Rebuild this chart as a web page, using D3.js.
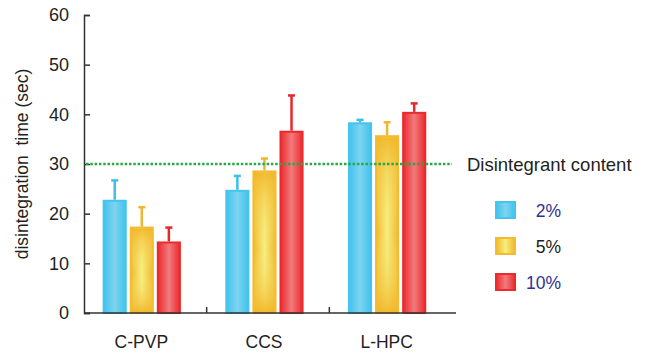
<!DOCTYPE html>
<html>
<head>
<meta charset="utf-8">
<script src="https://cdn.jsdelivr.net/npm/d3@7"></script>
<style>
  body { margin: 0; background: #fff; }
  text { font-family: "Liberation Sans", Arial, sans-serif; }
</style>
</head>
<body>
<svg id="chart" width="645" height="354"></svg>
<script>
// data
const categories = ['C-PVP', 'CCS', 'L-HPC']
const series = ['2%', '5%', '10%']
const means = [
  [22.8, 24.8, 38.4],   // 2%
  [17.4, 28.7, 35.8],   // 5%
  [14.4, 36.7, 40.5]    // 10%
]
const errors = [
  [3.9, 2.8, 0.5],
  [3.9, 2.4, 2.6],
  [2.8, 7.1, 1.7]
]
const yTicks = [0, 10, 20, 30, 40, 50, 60]
const threshold = 30

const svg = d3.select('#chart')
const margin = { left: 84, top: 15, right: 191, bottom: 41 }
const W = 645, H = 354

const colors = [
  { edge: '#3fc3ee', mid: '#7fd4ef', line: '#46c4ee', err: '#3dbfe9', text: '#2e3192' },
  { edge: '#f2b62a', mid: '#f6ee80', line: '#f3bb2e', err: '#f1b631', text: '#231f20' },
  { edge: '#ec2a2d', mid: '#f07b7e', line: '#ea2a2d', err: '#e8262b', text: '#2e3192' }
]

const x = d3.scaleBand().domain(categories).range([margin.left, W - margin.right - 2])
const xs = d3.scaleBand().domain(series).range([0, x.bandwidth()])
  .paddingInner(0.11).paddingOuter(0.82).align(0.42)
const y = d3.scaleLinear().domain([0, 60]).range([H - margin.bottom, margin.top])

// gradients
const defs = svg.append('defs')
colors.forEach((c, i) => {
  const g = defs.append('linearGradient').attr('id', 'g' + i)
    .attr('x1', 0).attr('x2', 1).attr('y1', 0).attr('y2', 0)
  g.append('stop').attr('offset', '0%').attr('stop-color', c.edge)
  g.append('stop').attr('offset', '50%').attr('stop-color', c.mid)
  g.append('stop').attr('offset', '100%').attr('stop-color', c.edge)
})
// the 5% bars also fade from yellow in the middle to orange at top and bottom
const gv = defs.append('linearGradient').attr('id', 'gv')
  .attr('x1', 0).attr('x2', 0).attr('y1', 0).attr('y2', 1)
gv.append('stop').attr('offset', '0%').attr('stop-color', '#f2b62a').attr('stop-opacity', 0.9)
gv.append('stop').attr('offset', '55%').attr('stop-color', '#f6ee80').attr('stop-opacity', 0)
gv.append('stop').attr('offset', '100%').attr('stop-color', '#f2b62a').attr('stop-opacity', 0.9)

// bars
series.forEach((s, si) => {
  const g = svg.append('g')
  categories.forEach((cat, ci) => {
    const v = means[si][ci]
    const e = errors[si][ci]
    const bx = x(cat) + xs(s)
    const cx = bx + xs.bandwidth() / 2
    g.append('line')
      .attr('x1', cx).attr('x2', cx)
      .attr('y1', y(v)).attr('y2', y(v + e))
      .attr('stroke', colors[si].err).attr('stroke-width', 2.5)
    g.append('line')
      .attr('x1', cx - 3.5).attr('x2', cx + 3.5)
      .attr('y1', y(v + e)).attr('y2', y(v + e))
      .attr('stroke', colors[si].err).attr('stroke-width', 2.5)
    g.append('rect')
      .attr('x', bx + 1).attr('y', y(v) + 1)
      .attr('width', xs.bandwidth() - 2).attr('height', y(0) - y(v) - 1)
      .attr('fill', `url(#g${si})`)
      .attr('stroke', colors[si].line).attr('stroke-width', 2)
    if (si === 1) {
      g.append('rect')
        .attr('x', bx + 2).attr('y', y(v) + 2)
        .attr('width', xs.bandwidth() - 4).attr('height', y(0) - y(v) - 3)
        .attr('fill', 'url(#gv)')
    }
  })
})

// axes
const yAxis = d3.axisLeft(y).tickValues(yTicks).tickSize(-6).tickPadding(15)
svg.append('g').attr('transform', `translate(${margin.left},0)`).call(yAxis)
  .call(g => g.select('.domain').attr('stroke', '#333').attr('stroke-width', 1.5))
  .call(g => g.selectAll('.tick line').attr('stroke', '#333').attr('stroke-width', 1.5))
  .call(g => g.selectAll('.tick text').attr('font-size', 18).attr('fill', '#231f20')
    .attr('font-family', '"Liberation Sans", Arial, sans-serif'))

svg.append('line')
  .attr('x1', margin.left).attr('x2', W - margin.right + 2)
  .attr('y1', y(0)).attr('y2', y(0))
  .attr('stroke', '#333').attr('stroke-width', 1.5)

// group separators on x axis
categories.slice(1).forEach(cat => {
  svg.append('line')
    .attr('x1', x(cat)).attr('x2', x(cat))
    .attr('y1', y(0)).attr('y2', y(0) - 6)
    .attr('stroke', '#333').attr('stroke-width', 1.5)
})
categories.forEach(cat => {
  svg.append('text')
    .attr('x', x(cat) + x.bandwidth() / 2 - 4).attr('y', 348)
    .attr('text-anchor', 'middle').attr('font-size', 17.5).attr('fill', '#231f20')
    .text(cat)
})

// threshold line
svg.append('line')
  .attr('x1', margin.left + 2).attr('x2', W - margin.right - 2)
  .attr('y1', y(threshold)).attr('y2', y(threshold))
  .attr('stroke', '#2aa845').attr('stroke-width', 2.5)
  .attr('stroke-dasharray', '2.5 1.8')

// y title
svg.append('text')
  .attr('transform', `translate(28,${(y(0) + y(60)) / 2}) rotate(-90)`)
  .attr('text-anchor', 'middle').attr('font-size', 17.5).attr('fill', '#231f20')
  .attr('xml:space', 'preserve')
  .text('disintegration  time (sec)')

// legend
svg.append('text')
  .attr('x', 467).attr('y', 171)
  .attr('font-size', 18.5).attr('fill', '#231f20')
  .text('Disintegrant content')

series.forEach((s, si) => {
  const ly = 201 + si * 36
  svg.append('rect')
    .attr('x', 496).attr('y', ly + 1).attr('width', 19).attr('height', 16)
    .attr('fill', `url(#g${si})`)
    .attr('stroke', colors[si].line).attr('stroke-width', 2)
  svg.append('text')
    .attr('x', 561).attr('y', ly + 16)
    .attr('text-anchor', 'end').attr('font-size', 17.5).attr('fill', colors[si].text)
    .text(s)
})
</script>
</body>
</html>
